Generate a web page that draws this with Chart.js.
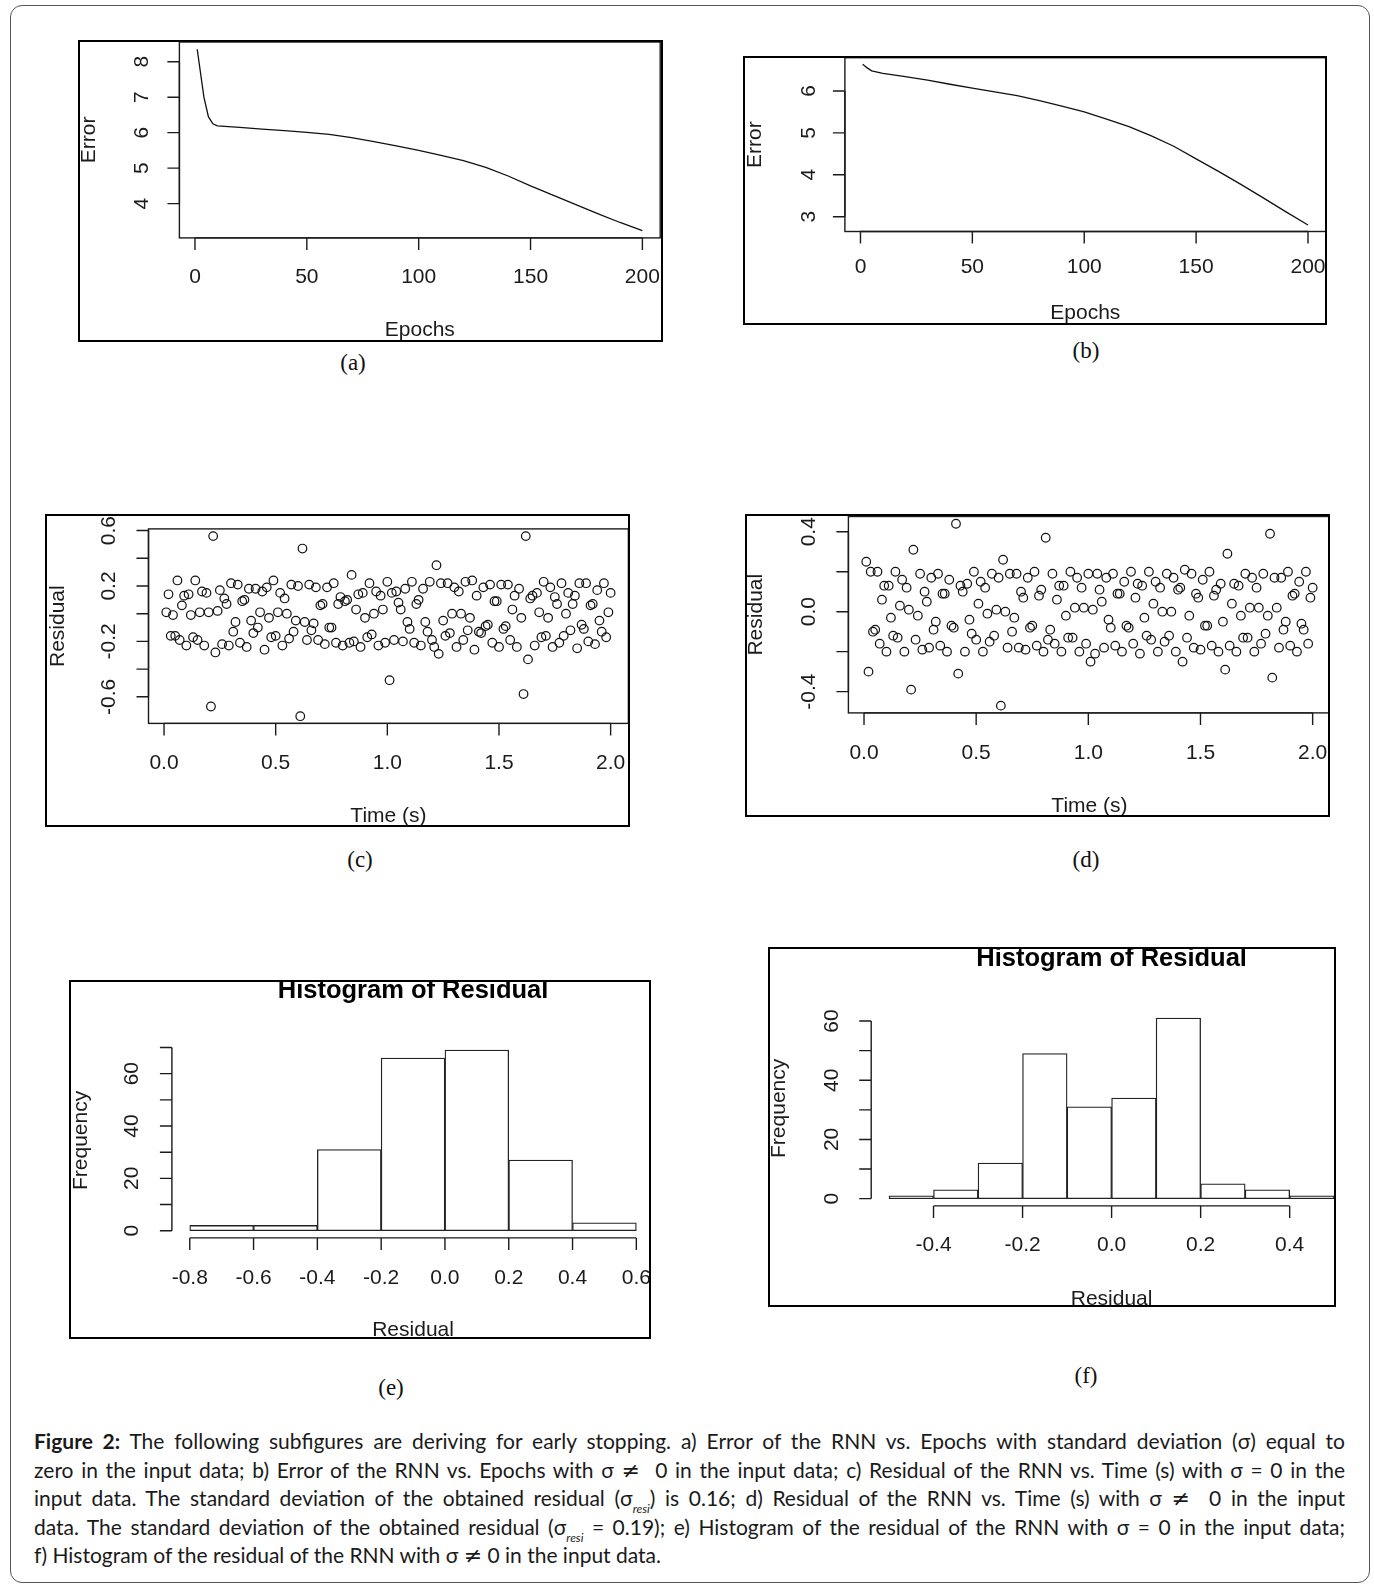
<!DOCTYPE html>
<html>
<head>
<meta charset="utf-8">
<script src="https://cdn.jsdelivr.net/npm/chart.js@4.4.1/dist/chart.umd.min.js"></script>
<style>
html,body{margin:0;padding:0;background:#fff;}
body{width:1374px;height:1591px;position:relative;overflow:hidden;}
#frame{position:absolute;left:10px;top:5px;width:1360px;height:1578px;border:1.3px solid #555;border-radius:12px;box-sizing:border-box;}
.box{position:absolute;border:2px solid #000;box-sizing:border-box;overflow:hidden;background:#fff;}
.box canvas{position:absolute;}
.sub{position:absolute;font-family:"Liberation Serif","Times New Roman",serif;font-size:23px;color:#111;transform:translate(-50%,-50%);}
#caption{position:absolute;left:34px;top:1427px;width:1311px;font-family:Lato,"Liberation Sans",sans-serif;font-size:21px;line-height:28.6px;color:#1a1a1a;}
#caption div{white-space:nowrap;text-align:justify;text-align-last:justify;}
#caption div.last{text-align-last:left;}
#caption sub{font-size:12px;font-style:italic;vertical-align:-7px;line-height:0;}
#caption .ne{font-family:"DejaVu Sans",sans-serif;font-size:22px;line-height:0;}
</style>
</head>
<body>
<div id="frame"></div>

<div class="sub" style="left:353px;top:363px">(a)</div>
<div class="sub" style="left:1086px;top:351px">(b)</div>
<div class="sub" style="left:360px;top:860px">(c)</div>
<div class="sub" style="left:1086px;top:860px">(d)</div>
<div class="sub" style="left:391px;top:1388px">(e)</div>
<div class="sub" style="left:1086px;top:1376px">(f)</div>

<div id="caption">
  <div><b>Figure 2:</b> The following subfigures are deriving for early stopping. a) Error of the RNN vs. Epochs with standard deviation (σ) equal to</div>
  <div>zero in the input data; b) Error of the RNN vs. Epochs with σ <span class="ne">≠</span>&nbsp; 0 in the input data; c) Residual of the RNN vs. Time (s) with σ = 0 in the</div>
  <div>input data. The standard deviation of the obtained residual (σ<sub>resi</sub>) is 0.16; d) Residual of the RNN vs. Time (s) with σ <span class="ne">≠</span>&nbsp; 0 in the input</div>
  <div>data. The standard deviation of the obtained residual (σ<sub>resi</sub> = 0.19); e) Histogram of the residual of the RNN with σ = 0 in the input data;</div>
  <div class="last">f) Histogram of the residual of the RNN with σ <span class="ne">≠</span> 0 in the input data.</div>
</div>

<script>
// (a) training error, sigma = 0
const epochsA = [1, 4, 6, 8, 10, 20, 30, 40, 50, 60, 70, 80, 90, 100, 110, 120, 130, 140, 150, 160, 170, 180, 190, 200];
const errorA  = [8.35, 7.0, 6.45, 6.25, 6.19, 6.15, 6.10, 6.06, 6.01, 5.95, 5.86, 5.75, 5.63, 5.50, 5.36, 5.21, 5.02, 4.78, 4.50, 4.24, 3.98, 3.72, 3.47, 3.24];

// (b) training error, sigma != 0
const epochsB = [1, 3, 5, 10, 20, 30, 40, 50, 60, 70, 80, 90, 100, 110, 120, 130, 140, 150, 160, 170, 180, 190, 200];
const errorB  = [6.64, 6.55, 6.48, 6.42, 6.34, 6.26, 6.16, 6.07, 5.98, 5.89, 5.77, 5.64, 5.50, 5.33, 5.15, 4.93, 4.68, 4.38, 4.08, 3.77, 3.45, 3.12, 2.80];

// (c), (d) residuals, one sample every 0.01 s
const timeStep = 0.01;
const residualC = [
  0.01, 0.14, -0.16, -0.01, -0.16, 0.24, -0.19, 0.06, 0.13, -0.23,
  0.14, -0.01, -0.17, 0.24, -0.19, 0.01, 0.16, -0.23, 0.15, 0.01,
  -0.67, 0.56, -0.28, 0.02, 0.17, -0.22, 0.11, 0.07, -0.23, 0.22,
  -0.13, -0.06, 0.21, -0.21, 0.09, 0.10, -0.24, 0.18, -0.05, -0.14,
  0.18, -0.10, 0.01, 0.16, -0.26, 0.19, -0.03, -0.17, 0.24, -0.16,
  0.01, 0.15, -0.23, 0.11, 0.00, -0.18, 0.21, -0.13, -0.05, 0.20,
  -0.74, 0.47, -0.06, -0.19, 0.21, -0.12, -0.07, 0.19, -0.19, 0.06,
  0.07, -0.22, 0.19, -0.10, -0.10, 0.22, -0.21, 0.07, 0.12, -0.23,
  0.09, 0.10, -0.21, 0.28, -0.20, 0.03, 0.14, -0.24, 0.15, -0.03,
  -0.17, 0.22, -0.15, 0.00, 0.16, -0.23, 0.13, 0.03, -0.21, 0.23,
  -0.48, 0.15, -0.19, 0.16, 0.08, 0.03, -0.20, 0.18, -0.06, -0.11,
  0.23, -0.21, 0.07, 0.10, -0.23, 0.18, -0.06, -0.13, 0.23, -0.19,
  -0.24, 0.35, -0.29, 0.22, -0.05, -0.16, 0.22, -0.14, 0.00, 0.19,
  -0.24, 0.16, 0.00, -0.19, 0.23, -0.12, -0.03, 0.24, -0.26, 0.13,
  -0.13, -0.14, 0.19, -0.09, -0.08, 0.21, -0.21, 0.09, 0.09, -0.24,
  0.21, -0.11, -0.09, 0.21, -0.19, 0.03, 0.13, -0.24, 0.18, -0.03,
  -0.58, 0.56, -0.33, 0.11, 0.13, -0.23, 0.15, 0.01, -0.17, 0.23,
  -0.16, -0.03, 0.19, -0.24, 0.12, 0.07, -0.21, 0.22, -0.16, 0.00,
  0.15, -0.12, 0.07, 0.13, -0.25, 0.22, -0.08, -0.11, 0.22, -0.20,
  0.06, 0.07, -0.22, 0.17, -0.05, -0.13, 0.22, -0.17, 0.01, 0.15
];
const residualD = [
  0.25, -0.30, 0.20, -0.10, -0.09, 0.20, -0.16, 0.06, 0.13, -0.20,
  0.13, -0.03, -0.12, 0.20, -0.13, 0.03, 0.16, -0.20, 0.12, 0.01,
  -0.39, 0.31, -0.14, -0.02, 0.19, -0.19, 0.10, 0.05, -0.18, 0.17,
  -0.09, -0.05, 0.19, -0.17, 0.09, 0.09, -0.20, 0.16, -0.07, -0.08,
  0.44, -0.31, 0.13, 0.10, -0.20, 0.14, -0.04, -0.11, 0.20, -0.14,
  0.04, 0.15, -0.20, 0.12, -0.01, -0.15, 0.19, -0.12, 0.01, 0.17,
  -0.47, 0.26, 0.00, -0.18, 0.19, -0.10, -0.03, 0.19, -0.18, 0.10,
  0.07, -0.19, 0.17, -0.08, -0.07, 0.20, -0.17, 0.08, 0.11, -0.20,
  0.37, -0.14, -0.09, 0.19, -0.16, 0.06, 0.13, -0.20, 0.13, -0.02,
  -0.13, 0.20, -0.13, 0.02, 0.17, -0.20, 0.12, 0.02, -0.16, 0.19,
  -0.25, 0.01, -0.21, 0.19, 0.11, 0.05, -0.18, 0.17, -0.04, -0.08,
  0.19, -0.17, 0.09, 0.09, -0.20, 0.15, -0.07, -0.08, 0.20, -0.16,
  0.07, 0.14, -0.21, 0.13, -0.03, -0.12, 0.20, -0.14, 0.04, 0.15,
  -0.20, 0.12, 0.00, -0.15, 0.19, -0.12, 0.00, 0.17, -0.20, 0.11,
  0.12, -0.25, 0.21, -0.13, -0.02, 0.19, -0.18, 0.09, 0.07, -0.19,
  0.16, -0.07, -0.07, 0.20, -0.17, 0.08, 0.11, -0.20, 0.14, -0.05,
  -0.29, 0.29, -0.17, 0.04, 0.14, -0.20, 0.13, -0.02, -0.13, 0.19,
  -0.13, 0.02, 0.17, -0.20, 0.12, 0.02, -0.16, 0.19, -0.11, -0.02,
  0.39, -0.33, 0.17, 0.02, -0.18, 0.17, -0.09, -0.05, 0.20, -0.17,
  0.08, 0.09, -0.20, 0.15, -0.06, -0.09, 0.20, -0.16, 0.07, 0.12
];

// (e), (f) histogram breaks and counts
const breaksE = [-0.8, -0.6, -0.4, -0.2, 0.0, 0.2, 0.4, 0.6];
const countsE = [2, 2, 31, 66, 69, 27, 3];
const breaksF = [-0.5, -0.4, -0.3, -0.2, -0.1, 0.0, 0.1, 0.2, 0.3, 0.4, 0.5];
const countsF = [1, 3, 12, 49, 31, 34, 61, 5, 3, 1];

// axis ticks and their labels ('' = tick without label)
const epochTicks = [0, 50, 100, 150, 200];
const epochLabels = ['0', '50', '100', '150', '200'];
const errTicksA = [4, 5, 6, 7, 8];
const errLabelsA = ['4', '5', '6', '7', '8'];
const errTicksB = [3, 4, 5, 6];
const errLabelsB = ['3', '4', '5', '6'];
const timeTicks = [0, 0.5, 1, 1.5, 2];
const timeLabels = ['0.0', '0.5', '1.0', '1.5', '2.0'];
const resTicksC = [-0.6, -0.4, -0.2, 0, 0.2, 0.4, 0.6];
const resLabelsC = ['-0.6', '', '-0.2', '', '0.2', '', '0.6'];
const resTicksD = [-0.4, -0.2, 0, 0.2, 0.4];
const resLabelsD = ['-0.4', '', '0.0', '', '0.4'];
const histTicksE = [-0.8, -0.6, -0.4, -0.2, 0, 0.2, 0.4, 0.6];
const histLabelsE = ['-0.8', '-0.6', '-0.4', '-0.2', '0.0', '0.2', '0.4', '0.6'];
const freqTicksE = [0, 10, 20, 30, 40, 50, 60, 70];
const freqLabelsE = ['0', '', '20', '', '40', '', '60', ''];
const histTicksF = [-0.4, -0.2, 0, 0.2, 0.4];
const histLabelsF = ['-0.4', '-0.2', '0.0', '0.2', '0.4'];
const freqTicksF = [0, 10, 20, 30, 40, 50, 60];
const freqLabelsF = ['0', '', '20', '', '40', '', '60'];

// R-style default limits: data range widened by 4% on each side
function rRange(lo, hi) { const d = (hi - lo) * 0.04; return [lo - d, hi + d]; }
const minOf = a => Math.min(...a), maxOf = a => Math.max(...a);

const TICK = 12;
const FONT = '21px "Liberation Sans", Arial, sans-serif';
const INK = '#1b1b1b';

// axes, box and titles drawn the way R's base graphics lays them out
function rAxes(o) {
  return {
    id: 'rAxes',
    afterDatasetsDraw(chart) {
      const {ctx, chartArea: a, scales: {x, y}} = chart;
      ctx.save();
      ctx.strokeStyle = INK; ctx.fillStyle = INK; ctx.lineWidth = 1.4;
      if (o.box) ctx.strokeRect(a.left, a.top, a.right - a.left, a.bottom - a.top);

      const xp = x.ticks.map(t => x.getPixelForValue(t.value));
      const yp = y.ticks.map(t => y.getPixelForValue(t.value));
      ctx.beginPath();
      ctx.moveTo(xp[0], a.bottom); ctx.lineTo(xp[xp.length - 1], a.bottom);
      xp.forEach(p => { ctx.moveTo(p, a.bottom); ctx.lineTo(p, a.bottom + TICK); });
      ctx.moveTo(a.left, yp[0]); ctx.lineTo(a.left, yp[yp.length - 1]);
      yp.forEach(p => { ctx.moveTo(a.left, p); ctx.lineTo(a.left - TICK, p); });
      ctx.stroke();

      ctx.font = FONT; ctx.textAlign = 'center'; ctx.textBaseline = 'middle';
      o.xLabels.forEach((t, i) => { if (t) ctx.fillText(t, xp[i], a.bottom + o.lab[0]); });
      o.yLabels.forEach((t, i) => {
        if (!t) return;
        ctx.save(); ctx.translate(a.left - o.lab[1], yp[i]); ctx.rotate(-Math.PI / 2);
        ctx.fillText(t, 0, 0); ctx.restore();
      });

      ctx.fillText(o.xTitle, (a.left + a.right) / 2, a.bottom + o.ttl[0]);
      ctx.save(); ctx.translate(a.left - o.ttl[1], (a.top + a.bottom) / 2); ctx.rotate(-Math.PI / 2);
      ctx.fillText(o.yTitle, 0, 0); ctx.restore();

      if (o.main) {
        ctx.font = 'bold 25.5px "Liberation Sans", Arial, sans-serif';
        ctx.fillStyle = '#000';
        ctx.fillText(o.main, (a.left + a.right) / 2, a.top - o.mainOff);
      }
      ctx.restore();
    }
  };
}

const M = 60;
function makePanel(p, type, datasets, xr, yr, xTicks, yTicks, axes) {
  const box = document.createElement('div');
  box.className = 'box';
  Object.assign(box.style, {left: p.box[0] + 'px', top: p.box[1] + 'px', width: p.box[2] + 'px', height: p.box[3] + 'px'});
  document.body.appendChild(box);
  const cv = document.createElement('canvas');
  const cx = p.box[0] + 2 - M, cy = p.box[1] + 2 - M;
  const cw = p.box[2] - 4 + 2 * M, ch = p.box[3] - 4 + 2 * M;
  cv.width = cw; cv.height = ch;
  Object.assign(cv.style, {left: -M + 'px', top: -M + 'px', width: cw + 'px', height: ch + 'px'});
  box.appendChild(cv);
  const pad = {left: p.area[0] - cx, top: p.area[1] - cy, right: cx + cw - p.area[2], bottom: cy + ch - p.area[3]};
  const setTicks = list => s => { s.ticks = list.map(value => ({value})); };
  return new Chart(cv, {
    type,
    data: {datasets},
    options: {
      responsive: false, animation: false, events: [],
      layout: {padding: pad},
      plugins: {legend: {display: false}, tooltip: {enabled: false}},
      scales: {
        x: {type: 'linear', display: false, offset: false, min: xr[0], max: xr[1], afterBuildTicks: setTicks(xTicks)},
        y: {type: 'linear', display: false, min: yr[0], max: yr[1], afterBuildTicks: setTicks(yTicks)}
      }
    },
    plugins: [rAxes(axes)]
  });
}

const toXY = (xs, ys) => ys.map((v, i) => ({x: xs[i], y: v}));
const timed = ys => ys.map((v, i) => ({x: (i + 1) * timeStep, y: v}));
const binned = (br, cs) => cs.map((c, i) => ({x: (br[i] + br[i + 1]) / 2, y: c}));

const lineStyle = {borderColor: '#111', borderWidth: 1.3, pointRadius: 0, tension: 0, fill: false, clip: false};
const dotStyle = {pointRadius: 4.3, pointBorderWidth: 1.2, pointBorderColor: '#111', pointBackgroundColor: 'rgba(0,0,0,0)', clip: false};
const barStyle = {backgroundColor: '#fff', borderColor: '#222', borderWidth: 1.3, borderSkipped: false,
                  barPercentage: 1, categoryPercentage: 1};

// (a)
makePanel({box: [78, 40, 585, 302], area: [179.4, 42, 660.2, 237.9]}, 'line',
  [{data: toXY(epochsA, errorA), ...lineStyle}],
  rRange(minOf(epochsA), maxOf(epochsA)), rRange(minOf(errorA), maxOf(errorA)),
  epochTicks, errTicksA,
  {box: true, xLabels: epochLabels, yLabels: errLabelsA, xTitle: 'Epochs', yTitle: 'Error', lab: [39, 37.5], ttl: [92, 90]});

// (b)
makePanel({box: [743, 56, 584, 269], area: [844.9, 57.7, 1325.8, 231.5]}, 'line',
  [{data: toXY(epochsB, errorB), ...lineStyle}],
  rRange(minOf(epochsB), maxOf(epochsB)), rRange(minOf(errorB), maxOf(errorB)),
  epochTicks, errTicksB,
  {box: true, xLabels: epochLabels, yLabels: errLabelsB, xTitle: 'Epochs', yTitle: 'Error', lab: [35.5, 36], ttl: [82, 90]});

// (c)
makePanel({box: [45, 514, 585, 313], area: [148.5, 528.9, 628.4, 723.4]}, 'scatter',
  [{data: timed(residualC), ...dotStyle}],
  rRange(timeStep, residualC.length * timeStep), rRange(minOf(residualC), maxOf(residualC)),
  timeTicks, resTicksC,
  {box: true, xLabels: timeLabels, yLabels: resLabelsC, xTitle: 'Time (s)', yTitle: 'Residual', lab: [40, 39], ttl: [93, 90.5]});

// (d)
makePanel({box: [745, 514, 585, 303], area: [848.4, 516.5, 1330.5, 712.9]}, 'scatter',
  [{data: timed(residualD), ...dotStyle}],
  rRange(timeStep, residualD.length * timeStep), rRange(minOf(residualD), maxOf(residualD)),
  timeTicks, resTicksD,
  {box: true, xLabels: timeLabels, yLabels: resLabelsD, xTitle: 'Time (s)', yTitle: 'Residual', lab: [40, 39.4], ttl: [93, 92]});

// (e)
makePanel({box: [69, 980, 582, 359], area: [171.9, 1042.9, 654.2, 1237.9]}, 'bar',
  [{data: binned(breaksE, countsE), ...barStyle}],
  rRange(minOf(breaksE), maxOf(breaksE)), rRange(0, maxOf(countsE)),
  histTicksE, freqTicksE,
  {box: false, xLabels: histLabelsE, yLabels: freqLabelsE, xTitle: 'Residual', yTitle: 'Frequency',
   main: 'Histogram of Residual', mainOff: 52.4, lab: [40.7, 40], ttl: [92, 91]});

// (f)
makePanel({box: [768, 947, 568, 360], area: [871.2, 1010.8, 1352, 1205.9]}, 'bar',
  [{data: binned(breaksF, countsF), ...barStyle}],
  rRange(minOf(breaksF), maxOf(breaksF)), rRange(0, maxOf(countsF)),
  histTicksF, freqTicksF,
  {box: false, xLabels: histLabelsF, yLabels: freqLabelsF, xTitle: 'Residual', yTitle: 'Frequency',
   main: 'Histogram of Residual', mainOff: 52, lab: [39, 39], ttl: [93, 92]});
</script>
</body>
</html>
